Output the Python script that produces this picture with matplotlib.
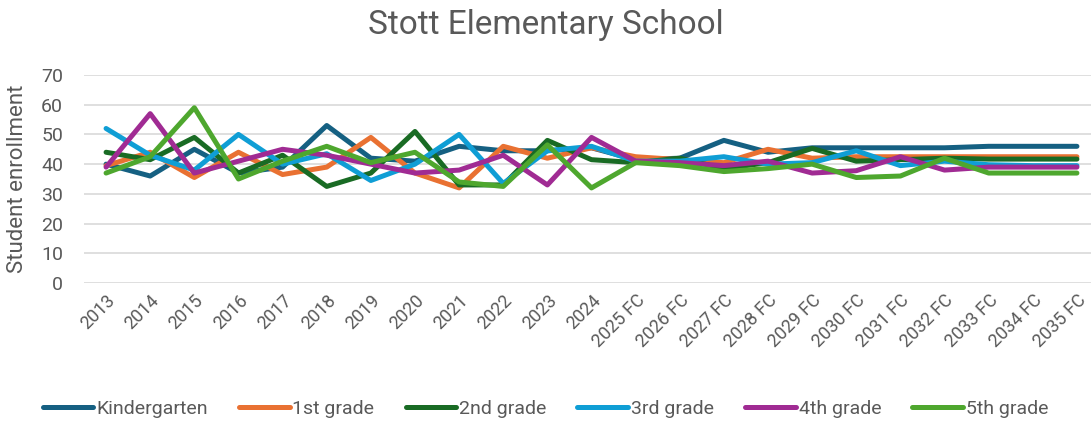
import matplotlib as mpl
from matplotlib import pyplot as plt

years = ['2013', '2014', '2015', '2016', '2017', '2018', '2019', '2020',
         '2021', '2022', '2023', '2024', '2025 FC', '2026 FC', '2027 FC',
         '2028 FC', '2029 FC', '2030 FC', '2031 FC', '2032 FC', '2033 FC',
         '2034 FC', '2035 FC']

kindergarten = [40, 36, 45, 37, 39, 53, 42, 41, 46, 44.5, 44.5, 45.5, 41.5,
                42, 48, 44, 45.5, 45.5, 45.5, 45.5, 46, 46, 46]
grade1 = [39.5, 44, 35.5, 44, 36.5, 39, 49, 37, 32, 46, 42, 45.5, 42.5,
          41.5, 40.5, 45, 42, 42.5, 42.5, 42.5, 42.5, 42.5, 42.5]
grade2 = [44, 41.5, 49, 37, 43, 32.5, 37, 51, 33, 33, 48, 41.5, 40.5,
          42, 38.5, 40.5, 45.3, 41, 41.5, 42, 41.7, 41.7, 41.7]
grade3 = [52, 43, 38, 50, 40, 43.5, 34.5, 40, 50, 33.5, 44.5, 46, 41,
          41, 42.5, 40, 40.5, 44.5, 39.5, 41, 39.8, 39.5, 39.5]
grade4 = [39, 57, 37, 41, 45, 43, 40, 37, 38, 43, 33, 49, 41,
          40.5, 39.5, 41, 37, 37.8, 42.5, 38, 39, 39, 39]
grade5 = [37, 42.5, 59, 35, 41, 46, 40.5, 44, 34, 32.5, 46.5, 32, 40.5,
          39.5, 37.5, 38.5, 40, 35.5, 36, 42, 37, 37, 37]

series = [('Kindergarten', kindergarten, '#156082'),
          ('1st grade', grade1, '#E97132'),
          ('2nd grade', grade2, '#196B24'),
          ('3rd grade', grade3, '#0F9ED5'),
          ('4th grade', grade4, '#A02B93'),
          ('5th grade', grade5, '#4EA72E')]

if __name__ == "__main__":
    mpl.rcParams['font.family'] = ['Roboto', 'DejaVu Sans']
    text_grey = '#595959'

    fig = plt.figure(figsize=(10.91, 4.21), dpi=100)
    ax = fig.add_axes([84 / 1091, 1 - 283 / 421,
                       (1099 - 84) / 1091, (283 - 75) / 421])

    x = list(range(len(years)))
    for label, values, color in series:
        ax.plot(x, values, color=color, lw=3.6, label=label,
                solid_capstyle='round', solid_joinstyle='round')

    ax.set_xlim(-0.5, len(years) - 0.5)
    ax.set_ylim(0, 70)
    ax.set_yticks(range(0, 71, 10))
    ax.set_xticks(x)
    ax.set_xticklabels(years, rotation=45, ha='right', rotation_mode='anchor')
    ax.tick_params(axis='both', length=0, colors=text_grey)
    ax.tick_params(axis='x', pad=6, labelsize=13)
    ax.tick_params(axis='y', pad=15, labelsize=14)
    ax.grid(axis='y', color='#d9d9d9', lw=1.2)
    ax.set_axisbelow(True)
    for spine in ax.spines.values():
        spine.set_visible(False)

    ax.set_ylabel('Student enrollment', fontsize=16, color=text_grey)
    ax.yaxis.set_label_coords(-56 / 1015, 0.5)
    fig.text(0.5, 1 - 25 / 421, 'Stott Elementary School', fontsize=24,
             color=text_grey, ha='center', va='center')

    fig.legend(loc='center', bbox_to_anchor=(0.5, 0.028), ncol=6,
               frameon=False, fontsize=14, handlelength=2.6,
               handletextpad=0.15, columnspacing=1.6,
               labelcolor=text_grey)

    fig.savefig('out.png')
